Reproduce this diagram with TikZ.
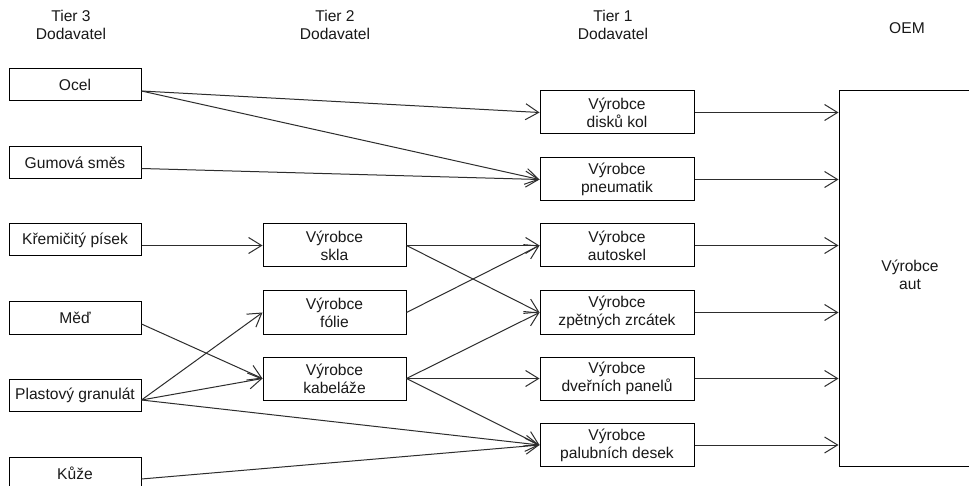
\documentclass[tikz,border=0pt]{standalone}
\usepackage{fontspec}
\setmainfont{Liberation Sans}
\usetikzlibrary{arrows.meta}
\definecolor{edgegray}{RGB}{45,45,45}
\definecolor{txt}{RGB}{25,25,25}
\begin{document}
\begin{tikzpicture}[x=1pt,y=-1pt,
  every node/.style={font=\fontsize{15.6}{18}\selectfont, text=txt, align=center, inner sep=0pt},
  supplier/.style={draw=black, line width=1pt, minimum height=32pt, minimum width=132pt},
  maker/.style={draw=black, line width=1pt, minimum height=43pt},
  tiertwo/.style={maker, minimum width=143pt},
  tierone/.style={maker, minimum width=154pt},
  header/.style={},
  flow/.style={draw=edgegray, line width=1pt, -{Straight Barb[length=13pt,width=16pt]}}
]
\useasboundingbox (0,0) rectangle (969,486);
\clip (0,0) rectangle (969,486);
\fill[white] (0,0) rectangle (969,486);

% column headings
\node[header] (h3) at (71,25) {Tier 3\\Dodavatel};
\node[header] (h2) at (335,25) {Tier 2\\Dodavatel};
\node[header] (h1) at (613,25) {Tier 1\\Dodavatel};
\node[header] (h0) at (907,28) {OEM};

% tier 3: raw materials
\node[supplier] (ocel)  at (75,85)    {Ocel};
\node[supplier] (guma)  at (75,162.5) {Gumová směs};
\node[supplier] (pisek) at (75,240)   {Křemičitý písek};
\node[supplier] (med)   at (75,318)   {Měď};
\node[supplier] (plast) at (75,395)   {Plastový granulát};
\node[supplier] (kuze)  at (75,473)   {Kůže};

% tier 2
\node[tiertwo] (skla)   at (334.5,245.5) {Výrobce\\skla};
\node[tiertwo] (folie)  at (334.5,312.5) {Výrobce\\fólie};
\node[tiertwo] (kabel)  at (334.5,378.5) {Výrobce\\kabeláže};

% tier 1
\node[tierone] (disky)  at (617,112.5) {Výrobce\\disků kol};
\node[tierone] (pneu)   at (617,179.5) {Výrobce\\pneumatik};
\node[tierone] (autosk) at (617,245.5) {Výrobce\\autoskel};
\node[tierone] (zrc)    at (617,312.5) {Výrobce\\zpětných zrcátek};
\node[tierone] (dvere)  at (617,378.5) {Výrobce\\dveřních panelů};
\node[tierone] (paluba) at (617,445)   {Výrobce\\palubních desek};

% OEM
\node[draw=black, line width=1pt, minimum width=142pt, minimum height=375.5pt] (oem) at (910,278.75) {};
\node (oemtxt) at (910,274.5) {Výrobce\\aut};

% tier 3 -> tier 2 / tier 1
\draw[flow] ([yshift=-6pt]ocel.east) -- (disky.west);
\draw[flow] ([yshift=-6pt]ocel.east) -- (pneu.west);
\draw[flow] ([yshift=-6pt]guma.east) -- (pneu.west);
\draw[flow] (pisek.east |- skla.west) -- (skla.west);
\draw[flow] ([yshift=-6pt]med.east) -- (kabel.west);
\draw[flow] ([yshift=-5pt]plast.east) -- (folie.west);
\draw[flow] ([yshift=-5pt]plast.east) -- (kabel.west);
\draw[flow] ([yshift=-5pt]plast.east) -- (paluba.west);
\draw[flow] ([yshift=-6pt]kuze.east) -- (paluba.west);

% tier 2 -> tier 1
\draw[flow] (skla.east) -- (autosk.west);
\draw[flow] (skla.east) -- (zrc.west);
\draw[flow] (folie.east) -- (autosk.west);
\draw[flow] (kabel.east) -- (zrc.west);
\draw[flow] (kabel.east) -- (dvere.west);
\draw[flow] (kabel.east) -- (paluba.west);

% tier 1 -> OEM
\foreach \s in {disky,pneu,autosk,zrc,dvere,paluba}
  \draw[flow] (\s.east) -- (oem.west |- \s.east);
\end{tikzpicture}
\end{document}
